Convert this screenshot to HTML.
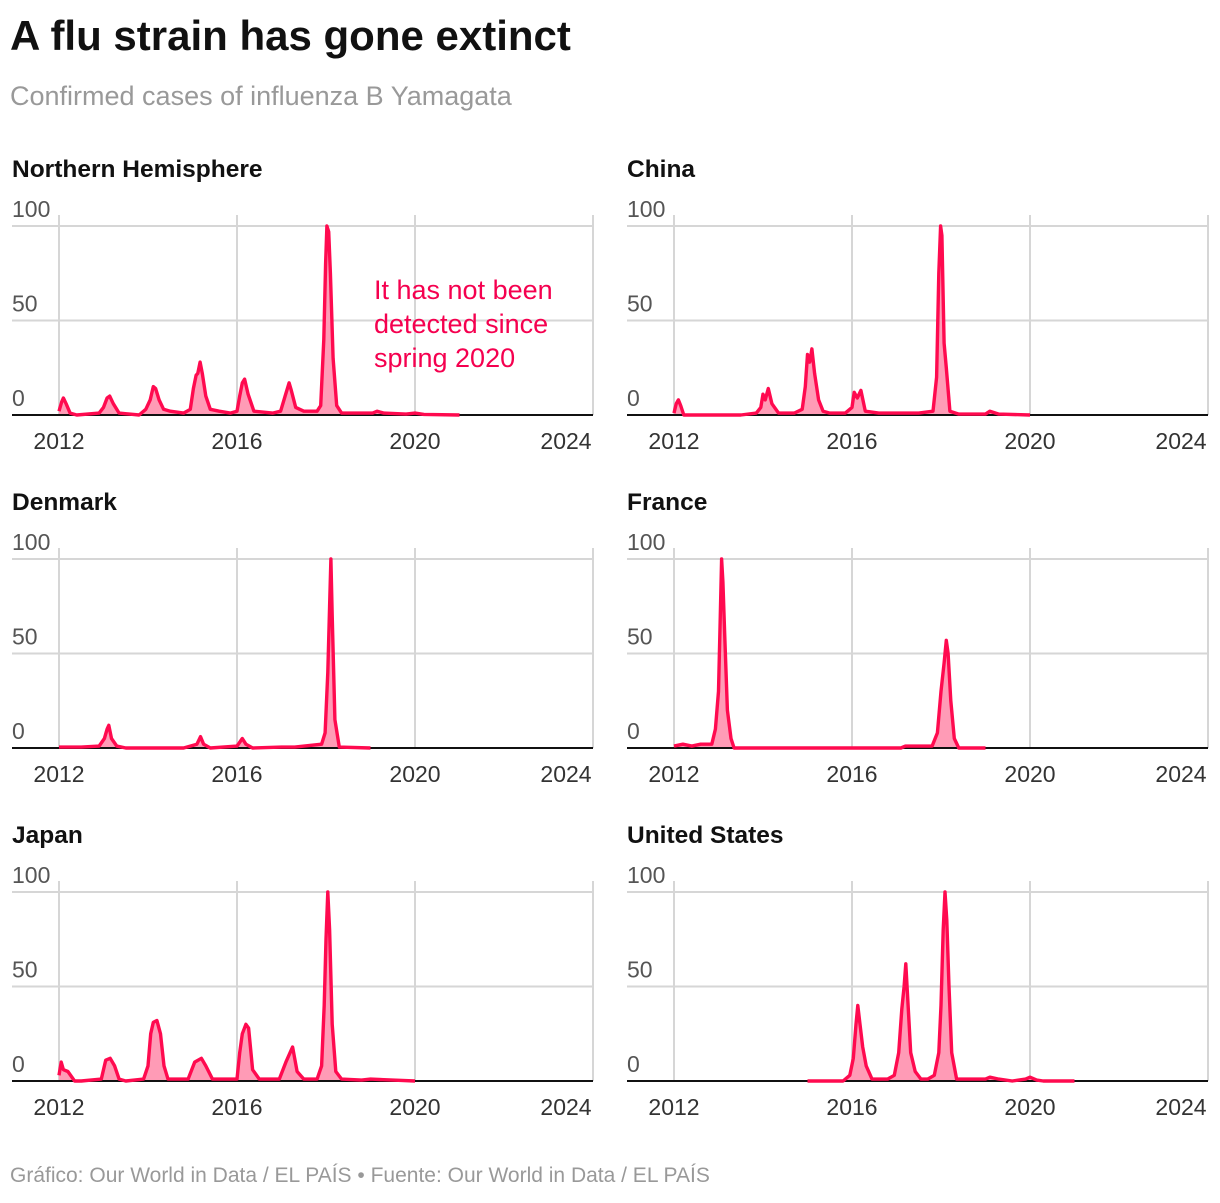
<!DOCTYPE html>
<html><head><meta charset="utf-8"><style>
body{margin:0;background:#fff;width:1220px;height:1198px;overflow:hidden;font-family:"Liberation Sans",sans-serif}
</style></head><body>
<svg id="c" width="1220" height="1198">
<text x="10" y="50" font-size="42" font-weight="bold" fill="#111">A flu strain has gone extinct</text>
<text x="10" y="105" font-size="27" fill="#999">Confirmed cases of influenza B Yamagata</text>
<text x="10" y="1182" font-size="21" fill="#999">Gráfico: Our World in Data / EL PAÍS • Fuente: Our World in Data / EL PAÍS</text>
</svg>
<script>
const names=["Northern Hemisphere","China","Denmark","France","Japan","United States"];
const xTicks=[2012,2016,2020,2024];
const yTicks=[0,50,100];
const nhYears=[2012.0,2012.06,2012.1,2012.16,2012.25,2012.4,2012.9,2013.0,2013.08,2013.14,2013.22,2013.35,2013.8,2013.95,2014.05,2014.12,2014.17,2014.25,2014.35,2014.5,2014.8,2014.95,2015.02,2015.08,2015.12,2015.17,2015.22,2015.3,2015.4,2015.6,2015.85,2016.0,2016.06,2016.12,2016.17,2016.25,2016.38,2016.8,2016.98,2017.08,2017.17,2017.22,2017.32,2017.5,2017.8,2017.88,2017.95,2017.99,2018.02,2018.06,2018.1,2018.16,2018.24,2018.35,2018.8,2019.05,2019.15,2019.3,2019.8,2020.0,2020.2,2021.0];
const nhVals=[2,7,9,6,1,0,1,4,9,10,6,1,0,3,8,15,14,8,3,2,1,3,14,21,22,28,22,10,3,2,1,2,10,17,19,11,2,1,2,10,17,13,4,2,2,5,40,80,100,97,75,30,5,1,1,1,2,1,0.5,1,0.3,0];
const cnYears=[2012.0,2012.05,2012.1,2012.15,2012.22,2012.4,2013.5,2013.85,2013.95,2014.0,2014.05,2014.12,2014.2,2014.35,2014.7,2014.88,2014.95,2015.0,2015.05,2015.1,2015.16,2015.25,2015.35,2015.5,2015.85,2016.0,2016.05,2016.12,2016.2,2016.3,2016.6,2017.0,2017.5,2017.82,2017.9,2017.95,2017.99,2018.02,2018.07,2018.12,2018.2,2018.4,2019.0,2019.1,2019.3,2020.0];
const cnVals=[1,6,8,5,0,0,0,1,4,11,8,14,6,1,1,3,15,32,28,35,22,8,2,1,1,4,12,9,13,2,1,1,1,2,20,75,100,95,38,25,2,0.5,0.5,2,0.5,0];
const dkYears=[2012.0,2012.5,2012.9,2013.02,2013.08,2013.12,2013.18,2013.3,2013.5,2014.8,2015.1,2015.18,2015.25,2015.4,2016.0,2016.12,2016.2,2016.35,2017.0,2017.3,2017.9,2017.98,2018.04,2018.08,2018.11,2018.14,2018.2,2018.3,2019.0];
const dkVals=[0.5,0.5,1,5,10,12,5,1,0,0,2,6,2,0,1,5,2,0,0.5,0.5,2,8,40,75,100,70,15,0.5,0];
const frYears=[2012.0,2012.2,2012.4,2012.6,2012.85,2012.93,2013.0,2013.04,2013.07,2013.1,2013.14,2013.2,2013.28,2013.35,2014.0,2016.0,2017.1,2017.2,2017.8,2017.92,2018.0,2018.07,2018.12,2018.16,2018.22,2018.3,2018.4,2019.0];
const frVals=[1,2,1,2,2,10,30,70,100,88,60,20,5,0,0,0,0,1,1,8,30,45,57,50,25,5,0,0];
const jpYears=[2012.0,2012.05,2012.1,2012.2,2012.35,2012.5,2012.95,2013.05,2013.15,2013.25,2013.35,2013.5,2013.9,2014.0,2014.06,2014.12,2014.2,2014.28,2014.36,2014.45,2014.9,2015.05,2015.2,2015.3,2015.45,2016.0,2016.06,2016.12,2016.2,2016.26,2016.35,2016.5,2016.95,2017.1,2017.25,2017.35,2017.5,2017.8,2017.9,2017.96,2018.0,2018.04,2018.08,2018.14,2018.22,2018.35,2018.8,2019.0,2019.5,2020.0];
const jpVals=[3,10,6,5,0,0,1,11,12,8,1,0,1,8,25,31,32,25,8,1,1,10,12,8,1,1,15,25,30,28,6,1,1,10,18,5,1,1,8,40,75,100,80,30,5,1,0.5,1,0.5,0];
const usYears=[2015.0,2015.8,2015.95,2016.03,2016.09,2016.13,2016.18,2016.24,2016.32,2016.45,2016.8,2016.95,2017.05,2017.12,2017.17,2017.21,2017.26,2017.32,2017.42,2017.55,2017.7,2017.85,2017.95,2018.0,2018.05,2018.09,2018.13,2018.18,2018.24,2018.35,2018.6,2019.0,2019.1,2019.3,2019.6,2019.9,2020.0,2020.15,2020.3,2021.0];
const usVals=[0,0,3,12,30,40,30,18,8,1,1,3,15,38,50,62,40,15,5,1,1,3,15,40,80,100,85,50,15,1,1,1,2,1,0,1,2,0.5,0,0];
const series=[[nhYears,nhVals],[cnYears,cnVals],[dkYears,dkVals],[frYears,frVals],[jpYears,jpVals],[usYears,usVals]];
const NS="http://www.w3.org/2000/svg";
const svg=document.getElementById('c');
function mk(tag,attrs,parent){const e=document.createElementNS(NS,tag);for(const k in attrs)e.setAttribute(k,attrs[k]);(parent||svg).appendChild(e);return e;}
names.forEach((nm,i)=>{
  const col=i%2,row=Math.floor(i/2);
  const left=col?627:12, x0=col?674:59, base=[415,748,1081][row];
  const xs=v=>x0+(v-2012)*534/12;
  const ys=v=>base-v*1.89;
  const g=mk('g',{});
  
  
  const t=mk('text',{x:left,y:base-238,'font-size':24.5,'font-weight':'bold',fill:'#111'},g);t.textContent=nm;
  
  
  yTicks.forEach(v=>{
    if(v>0){const l=mk('line',{x1:left,x2:xs(2024),y1:ys(v),y2:ys(v),stroke:'#d6d6d6','stroke-width':2},g);
    
    }
    const tx=mk('text',{x:left,y:ys(v)-9,'font-size':23,fill:'#555'},g);tx.textContent=v;
    
    
  });
  xTicks.forEach(v=>{
    const l=mk('line',{x1:xs(v),x2:xs(v),y1:base-200,y2:base,stroke:'#d6d6d6','stroke-width':2},g);
    
    
    const tx=mk('text',{x:xs(v)-(v===2024?27:0),y:base+34,'font-size':23,fill:'#333','text-anchor':'middle'},g);tx.textContent=v;
    
    
  });
  const [yr,vals]=series[i];
  let pts=yr.map((y,k)=>xs(y).toFixed(1)+','+ys(vals[k]).toFixed(1)).join(' ');
  const area=mk('polygon',{points:xs(yr[0])+','+base+' '+pts+' '+xs(yr[yr.length-1])+','+base,fill:'#ff9bb6'},g);
  
  
  const bl=mk('line',{x1:left,x2:xs(2024),y1:base,y2:base,stroke:'#111','stroke-width':2},g);
  
  
  const ln=mk('polyline',{points:pts,fill:'none',stroke:'#ff0a4f','stroke-width':3.4,'stroke-linejoin':'round'},g);
  
  
});
const ann=mk('text',{x:374,'font-size':27,fill:'#f5004f'});


["It has not been","detected since","spring 2020"].forEach((s,k)=>{const ts=mk('tspan',{x:374,y:299+k*34},ann);ts.textContent=s;});
</script>
</body></html>
